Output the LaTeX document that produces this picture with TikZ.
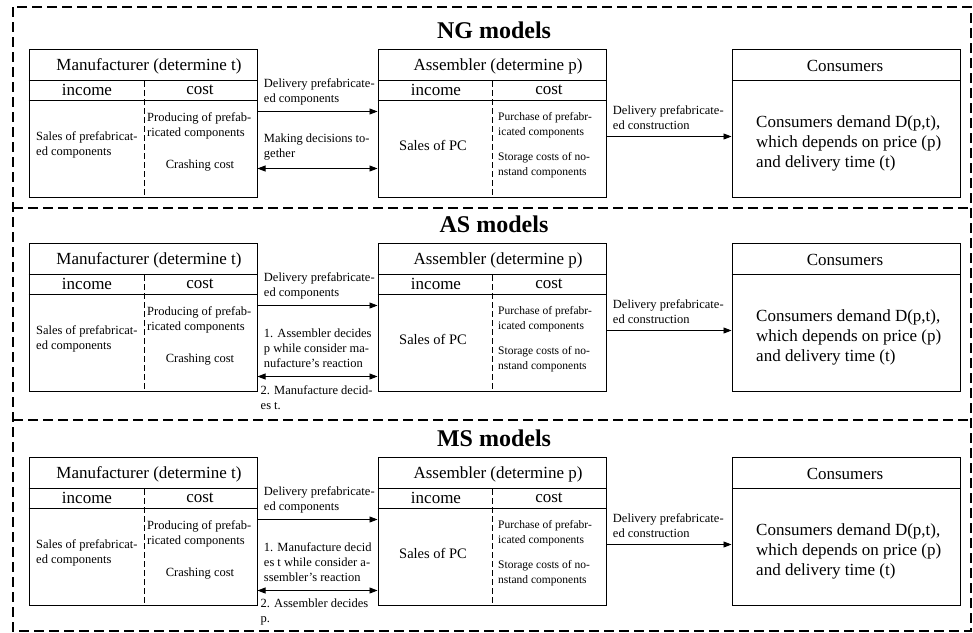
\documentclass[tikz,border=0pt]{standalone}
\usepackage{fontspec}
\setmainfont{Liberation Serif}
\usetikzlibrary{arrows.meta}

\tikzset{
  outerframe/.style={line width=1.6pt, dash pattern=on 10pt off 5pt},
  box/.style={draw, line width=1pt, minimum width=228pt, minimum height=148pt, inner sep=0pt},
  split/.style={line width=0.9pt, dash pattern=on 6pt off 3pt},
  titletext/.style={font=\fontsize{24}{27}\bfseries\selectfont, inner sep=0pt},
  headtext/.style={font=\fontsize{17}{19}\selectfont, inner sep=0pt},
  smalltext/.style={font=\fontsize{12.5}{15}\selectfont, align=left, inner sep=0pt},
  flow/.style={-{Triangle[length=8pt,width=6pt]}, line width=0.9pt},
  twoway/.style={{Triangle[length=8pt,width=6pt]}-{Triangle[length=8pt,width=6pt]}, line width=0.9pt},
}

\begin{document}
\begin{tikzpicture}[x=1pt, y=-1pt]
  \useasboundingbox (0,0) rectangle (973,632);
  % the three model panels
  \draw[outerframe] (13,7) rectangle (971,631);
  \draw[outerframe] (13,208) -- (971,208);
  \draw[outerframe] (13,420) -- (971,420);

  \foreach \i/\T/\ttl/\dy/\up/\down in {
      1/49/NG/120/{Making decisions to-\\gether}/{},
      2/243/AS/134/{1. Assembler decides\\p while consider ma-\\nufacture's reaction}/{2. Manufacture decid-\\es t.},
      3/457/MS/134/{1. Manufacture decid\\es t while consider a-\\ssembler's reaction}/{2. Assembler decides\\p.}}
  {
    \node[titletext] (ttl\i) at (494,\T-19) {\ttl\ models};

    % manufacturer
    \node[box] (man\i) at (143,\T+74) {};
    \draw[line width=1pt] ([yshift=-32pt]man\i.north west) -- ([yshift=-32pt]man\i.north east);
    \draw[line width=1pt] ([yshift=-52pt]man\i.north west) -- ([yshift=-52pt]man\i.north east);
    \draw[split] (144,\T+32) -- (144,\T+148);
    \node[headtext] (mant\i) at (149,\T+17) {Manufacturer (determine t)};
    \node[headtext] (mani\i) at (87,\T+41) {income};
    \node[headtext] (manc\i) at (200,\T+41) {cost};
    \node[smalltext, anchor=west] (mans\i) at (36,\T+96) {Sales of prefabricat-\\ed components};
    \node[smalltext, anchor=west] (manp\i) at (147,\T+77) {Producing of prefab-\\ricated components};
    \node[smalltext] (mancr\i) at (200,\T+117) {Crashing cost};

    % assembler
    \node[box] (asm\i) at (492,\T+74) {};
    \draw[line width=1pt] ([yshift=-32pt]asm\i.north west) -- ([yshift=-32pt]asm\i.north east);
    \draw[line width=1pt] ([yshift=-52pt]asm\i.north west) -- ([yshift=-52pt]asm\i.north east);
    \draw[split] (492,\T+32) -- (492,\T+148);
    \node[headtext] (asmt\i) at (498,\T+17) {Assembler (determine p)};
    \node[headtext] (asmi\i) at (436,\T+41) {income};
    \node[headtext] (asmc\i) at (549,\T+41) {cost};
    \node[smalltext, font=\fontsize{14.5}{16}\selectfont, anchor=west] (asms\i) at (399,\T+96) {Sales of PC};
    \node[smalltext, font=\fontsize{11.5}{15}\selectfont, anchor=west] (asmp\i) at (498,\T+76) {Purchase of prefabr-\\icated components};
    \node[smalltext, font=\fontsize{11.5}{15}\selectfont, anchor=west] (asmst\i) at (498,\T+116) {Storage costs of no-\\nstand components};

    % consumers
    \node[box] (con\i) at (846,\T+74) {};
    \draw[line width=1pt] ([yshift=-32pt]con\i.north west) -- ([yshift=-32pt]con\i.north east);
    \node[headtext] (cont\i) at (845,\T+17) {Consumers};
    \node[smalltext, font=\fontsize{17}{20}\selectfont, anchor=west] (cond\i) at (756,\T+94)
      {Consumers demand D(p,t),\\which depends on price (p)\\and delivery time (t)};

    % flows between the parties
    \draw[flow] ([yshift=-63pt]man\i.north east) -- ([yshift=-63pt]asm\i.north west)
      node[pos=0, smalltext, anchor=south west, xshift=6pt, yshift=6pt] {Delivery prefabricate-\\ed components};
    \draw[twoway] ([yshift=-\dy pt]man\i.north east) -- ([yshift=-\dy pt]asm\i.north west)
      node[pos=0, smalltext, anchor=south west, xshift=6pt, yshift=8pt] {\up};
    \ifnum\i>1
      \node[smalltext, anchor=north west] (dn\i) at ([xshift=3pt, yshift=-8pt]man\i.north east |- 0,\T+\dy) {\down};
    \fi
    \draw[flow] ([yshift=-88pt]asm\i.north east) -- ([yshift=-88pt]con\i.north west)
      node[pos=0, smalltext, anchor=south west, xshift=6pt, yshift=6pt] {Delivery prefabricate-\\ed construction};
  }
\end{tikzpicture}
\end{document}
